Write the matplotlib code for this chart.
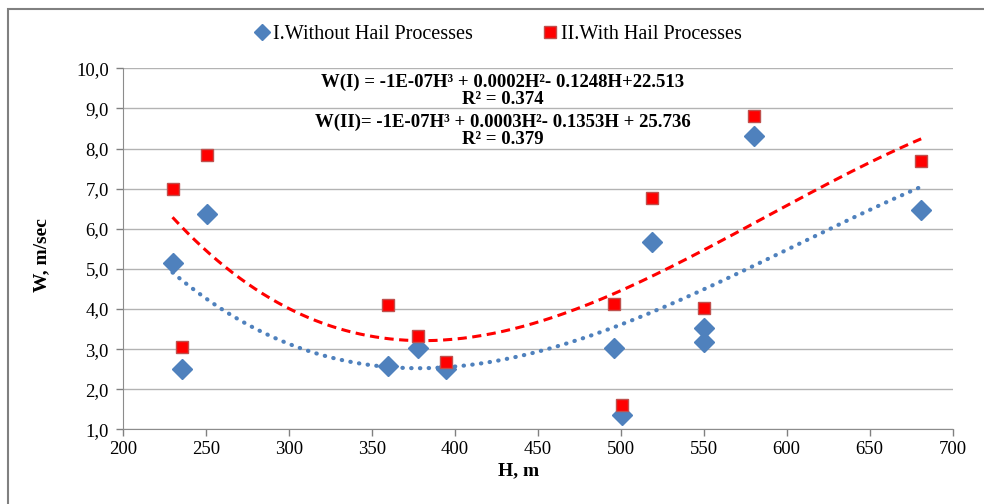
import numpy as np
import matplotlib
matplotlib.use("Agg")
import matplotlib.pyplot as plt
from matplotlib.lines import Line2D
from matplotlib.patches import Rectangle

# Data
H_I = [230, 236, 251, 360, 378, 395, 496, 501, 519, 550, 550, 580, 681]
W_I = [5.15, 2.50, 6.37, 2.58, 3.03, 2.50, 3.03, 1.36, 5.68, 3.52, 3.18, 8.31, 6.47]
H_II = [230, 236, 251, 360, 378, 395, 496, 501, 519, 550, 580, 681]
W_II = [6.99, 3.04, 7.83, 4.10, 3.33, 2.69, 4.12, 1.60, 6.76, 4.02, 8.81, 7.68]

label_I = "I.Without Hail Processes"
label_II = "II.With Hail Processes"
eq_I = "W(I) = -1E-07H³ + 0.0002H²- 0.1248H+22.513"
r2_I = "R² = 0.374"
eq_II = "W(II)= -1E-07H³ + 0.0003H²- 0.1353H + 25.736"
r2_II = "R² = 0.379"
x_ticks = [200, 250, 300, 350, 400, 450, 500, 550, 600, 650, 700]
y_ticks = [1, 2, 3, 4, 5, 6, 7, 8, 9, 10]

plt.rcParams['font.family'] = ['Liberation Serif', 'DejaVu Serif']

BLUE = '#4F81BD'
RED = '#FF0000'

fig = plt.figure(figsize=(9.84, 5.04), dpi=100)
ax = fig.add_axes([0.1247, 0.1482, 0.9682 - 0.1247, 0.8643 - 0.1482])

# outer frame (left and top edges visible)
fig.patches.append(Rectangle((8 / 984, -0.1), 1.2, 1 - 9 / 504 + 0.1, transform=fig.transFigure,
                             fill=False, edgecolor='#808080', lw=1.5))

ax.set_xlim(200, 700)
ax.set_ylim(1, 10)
ax.set_xticks(x_ticks)
ax.set_yticks(y_ticks)
ax.set_xticklabels([str(v) for v in x_ticks])
ax.set_yticklabels([f"{v:.1f}".replace('.', ',') for v in y_ticks])
ax.tick_params(axis='both', labelsize=13.5, colors='#808080', labelcolor='black', length=5, width=1)
ax.tick_params(axis='y', pad=5)
ax.yaxis.grid(True, color='#B3B3B3', lw=1)
ax.set_axisbelow(True)
for s in ['top', 'right']:
    ax.spines[s].set_visible(False)
for s in ['left', 'bottom']:
    ax.spines[s].set_color('#8C8C8C')

# trend lines (3rd order polynomial fits)
for H, W, col, ls, lw, cap in [(H_I, W_I, BLUE, (0, (0.1, 2.0)), 3.0, 'round'),
                               (H_II, W_II, RED, (0, (3, 1.8)), 2.2, 'butt')]:
    c = np.polyfit(H, W, 3)
    xs = np.linspace(min(H), max(H), 300)
    ax.plot(xs, np.polyval(c, xs), color=col, ls=ls, lw=lw, dash_capstyle=cap, zorder=2)

ax.plot(H_I, W_I, ls='none', marker='D', ms=10.5, color=BLUE, mec=BLUE, zorder=3)
ax.plot(H_II, W_II, ls='none', marker='s', ms=8.5, color=RED, mec='#C0504D', mew=1, zorder=4)

ax.set_xlabel("H, m", fontsize=14, fontweight='bold')
ax.xaxis.set_label_coords((519 - 122.7) / 830, (429.3 - 462) / 361)
ax.set_ylabel("W, m/sec", fontsize=14, fontweight='bold')
ax.yaxis.set_label_coords((50 - 122.7) / 830, (429.3 - 255) / 361)

for txt, yp in [(eq_I, 82), (r2_I, 99), (eq_II, 122), (r2_II, 139)]:
    fig.text(503 / 984, 1 - yp / 504, txt, fontsize=13.5, fontweight='bold', ha='center', va='center')

handles = [Line2D([], [], ls='none', marker='D', ms=8.5, color=BLUE),
           Line2D([], [], ls='none', marker='s', ms=8.5, color=RED, mec='#C0504D')]
fig.legend(handles, [label_I, label_II], loc='center', bbox_to_anchor=(498 / 984, 1 - 34 / 504),
           ncol=2, frameon=False, fontsize=14.5, handletextpad=0.15, columnspacing=3.4,
           handlelength=0.8)

fig.savefig("out.png", dpi=100)
